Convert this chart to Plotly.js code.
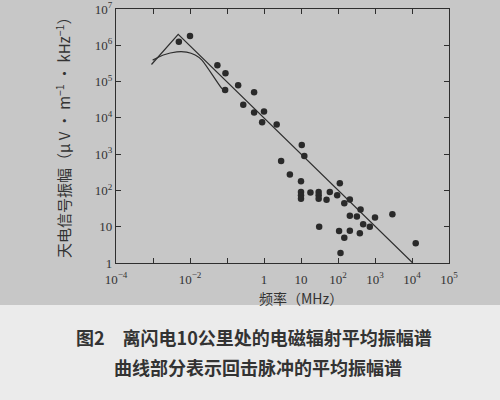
<!DOCTYPE html>
<html><head><meta charset="utf-8">
<script src="https://cdn.plot.ly/plotly-3.0.1.min.js"></script>
<style>html,body{margin:0;padding:0;background:#c7c7c7;}#chart{width:500px;height:400px;}</style>
</head><body><div id="chart"></div>
<script>
// Measured points: frequency (MHz) and average amplitude (μV·m⁻¹·kHz⁻¹)
const freqMHz = [0.0050,0.010,0.055,0.091,0.089,0.20,0.54,0.275,0.54,1.0,0.89,2.2,
  10.5,12.3,2.9,5.0,10,10,10,10,18,30,30,30,49,60,95,112,148,209,407,209,324,479,724,1000,2950,
  31,107,209,148,389,117,12600];
const amplitude = [1.26e6,1.8e6,2.8e5,1.7e5,5.9e4,7.9e4,5.1e4,2.3e4,1.4e4,1.5e4,7.6e3,6.6e3,
  1.8e3,890,650,275,180,91,74,59,87,91,74,59,55,91,74,158,44,56,30,20,19,11.7,10,18,22,
  10,7.6,7.8,5.0,6.6,1.9,3.5];
// Straight-line envelope
const lineFreq = [9.1e-4, 4.8e-3, 1.05e4];
const lineAmp = [2.95e5, 2.0e6, 1.0];
// Curve: average spectrum of return-stroke pulses
const curveFreq = [9.8e-4, 1.9e-3, 4.4e-3, 8.1e-3, 1.38e-2, 2.1e-2, 7.2e-2, 8.9e-2];
const curveAmp = [3.9e5, 5.4e5, 6.6e5, 6.5e5, 5.4e5, 3.9e5, 6.5e4, 5.5e4];
// Tick labels
const xTickVals = [1e-4,1e-3,1e-2,1e-1,1,10,100,1e3,1e4,1e5];
const xTickText = ['10<sup>−4</sup>','','10<sup>−2</sup>','','1','10','10<sup>2</sup>','10<sup>3</sup>','10<sup>4</sup>','10<sup>5</sup>'];
const yTickVals = [1,10,100,1e3,1e4,1e5,1e6,1e7];
const yTickText = ['1','10','10<sup>2</sup>','10<sup>3</sup>','10<sup>4</sup>','10<sup>5</sup>','10<sup>6</sup>','10<sup>7</sup>'];

const ink = '#2e2e2e';
const traces = [
  {x: lineFreq, y: lineAmp, mode: 'lines', line: {color: ink, width: 1.2}, hoverinfo: 'skip'},
  {x: curveFreq, y: curveAmp, mode: 'lines', line: {color: ink, width: 1.2, shape: 'spline', smoothing: 0.7}, hoverinfo: 'skip'},
  {x: freqMHz, y: amplitude, mode: 'markers', marker: {color: '#2a2a2a', size: 6.5}}
];
const axisCommon = {
  type: 'log', showgrid: false, zeroline: false, showline: true, linecolor: ink, linewidth: 1.2,
  mirror: 'allticks', ticks: 'inside', ticklen: 5, tickwidth: 1, tickcolor: ink,
  tickmode: 'array', tickfont: {family: 'Liberation Serif, DejaVu Serif, serif', size: 13, color: '#333'}
};
const layout = {
  width: 500, height: 400,
  margin: {l: 116, r: 51, t: 9, b: 137},
  paper_bgcolor: '#c7c7c7', plot_bgcolor: '#c7c7c7',
  showlegend: false,
  xaxis: Object.assign({}, axisCommon, {range: [-4, 5], tickvals: xTickVals, ticktext: xTickText, ticklabelstandoff: 4}),
  yaxis: Object.assign({}, axisCommon, {range: [0, 7], tickvals: yTickVals, ticktext: yTickText}),
  shapes: [
    {type: 'rect', xref: 'paper', yref: 'paper', x0: -0.4, x1: 1.2, y0: -0.165, y1: -0.6,
     fillcolor: '#ebebeb', line: {width: 0}, layer: 'below'}
  ],
  annotations: [
    {xref: 'paper', yref: 'paper', x: (301-116)/333, y: (263-298)/254, xanchor: 'center', yanchor: 'middle', showarrow: false,
     text: '频率（MHz）', font: {family: 'Noto Sans CJK SC', size: 14, color: '#333'}},
    {xref: 'paper', yref: 'paper', x: (63-116)/333, y: (263-134)/254, xanchor: 'center', yanchor: 'middle', showarrow: false, textangle: -90,
     text: '天电信号振幅（μ V · m<sup>−1</sup> · kHz<sup>−1</sup>）', font: {family: 'Noto Sans CJK SC', size: 15, color: '#333'}},
    {xref: 'paper', yref: 'paper', x: (254-116)/333, y: (263-337)/254, xanchor: 'center', yanchor: 'middle', showarrow: false,
     text: '图2　离闪电10公里处的电磁辐射平均振幅谱', font: {family: 'Noto Sans CJK SC', size: 18, color: '#333', weight: 'bold'}},
    {xref: 'paper', yref: 'paper', x: (258-116)/333, y: (263-367)/254, xanchor: 'center', yanchor: 'middle', showarrow: false,
     text: '曲线部分表示回击脉冲的平均振幅谱', font: {family: 'Noto Sans CJK SC', size: 18, color: '#333', weight: 'bold'}}
  ]
};
Plotly.newPlot('chart', traces, layout, {displayModeBar: false, staticPlot: true});
</script></body></html>
